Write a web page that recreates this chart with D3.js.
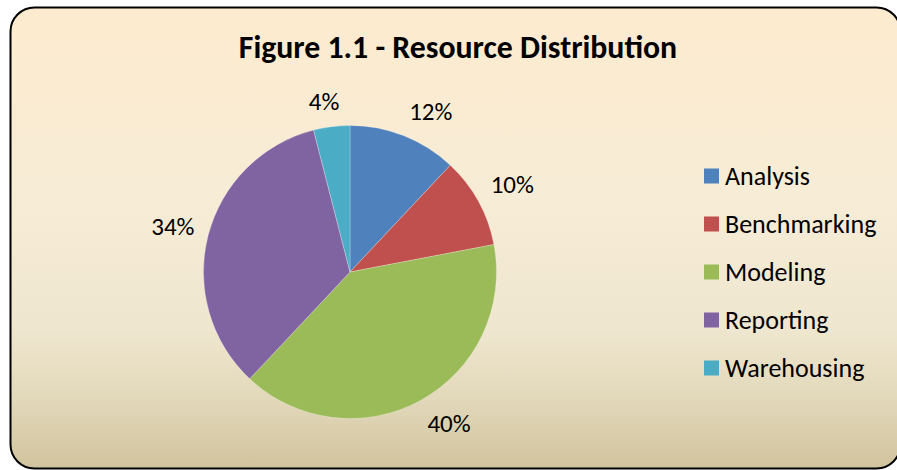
<!DOCTYPE html>
<html>
<head>
<meta charset="utf-8">
<script src="https://cdn.jsdelivr.net/npm/d3@7"></script>
<style>
  html, body { margin: 0; padding: 0; background: #ffffff; }
  svg { display: block; }
  text { font-family: Carlito, Lato, "Liberation Sans", sans-serif; fill: #000; }
</style>
</head>
<body>
<svg id="chart" width="897" height="470"></svg>
<script>
// ---- data ----
const title = "Figure 1.1 - Resource Distribution";
const categories = ["Analysis", "Benchmarking", "Modeling", "Reporting", "Warehousing"];
const values = [12, 10, 40, 34, 4];
const colors = ["#4F81BD", "#C0504D", "#9BBB59", "#8064A2", "#4BACC6"];

// ---- layout ----
const cx = 350, cy = 272, R = 146.5;
const svg = d3.select("#chart");

const defs = svg.append("defs");
const grad = defs.append("linearGradient").attr("id", "bg")
  .attr("x1", 0).attr("y1", 0).attr("x2", 0).attr("y2", 1);
[["0%", "#fdebcf"], ["45%", "#f6ecd6"], ["70%", "#efe6cf"], ["85%", "#e2d8ba"], ["100%", "#d1c39d"]]
  .forEach(([o, c]) => grad.append("stop").attr("offset", o).attr("stop-color", c));

svg.append("rect")
  .attr("x", 10.5).attr("y", 7.5).attr("width", 890).attr("height", 461)
  .attr("rx", 24).attr("ry", 24)
  .attr("fill", "url(#bg)").attr("stroke", "#000").attr("stroke-width", 2);

svg.append("text")
  .attr("x", 458).attr("y", 58)
  .attr("text-anchor", "middle")
  .attr("font-size", 31.8).attr("font-weight", "bold")
  .text(title);

const total = d3.sum(values);
const pie = d3.pie().sort(null).value(d => d)(values);
const arc = d3.arc().innerRadius(0).outerRadius(R);

const g = svg.append("g").attr("transform", `translate(${cx},${cy})`);
g.selectAll("path.slice").data(pie).join("path")
  .attr("class", "slice")
  .attr("d", arc)
  .attr("fill", (d, i) => colors[i])
  .attr("stroke", "rgba(255,255,255,0.35)")
  .attr("stroke-width", 0.7);

// percentage labels outside the pie
const fmt = d3.format(".0%");
const gap = 14;
g.selectAll("text.lbl").data(pie).join("text")
  .attr("class", "lbl")
  .attr("font-size", 25)
  .attr("text-anchor", "middle")
  .attr("dominant-baseline", "central")
  .text(d => fmt(d.value / total))
  .each(function(d) {
    const a = (d.startAngle + d.endAngle) / 2;
    const s = Math.sin(a), c = -Math.cos(a);
    const bb = this.getBBox();
    const clamp = v => Math.max(-1, Math.min(1, v));
    const x = (R + gap) * s + clamp(s * 3) * bb.width / 2;
    const y = (R + gap) * c + clamp(c * 2) * bb.height / 2 * 0.7;
    d3.select(this).attr("x", x).attr("y", y);
  });

// legend
const legendY = d3.scalePoint().domain(categories).range([176, 368]);
const lg = svg.append("g");
const items = lg.selectAll("g").data(categories).join("g")
  .attr("transform", d => `translate(704,${legendY(d)})`);
items.append("rect")
  .attr("x", 0).attr("y", -7.5).attr("width", 15).attr("height", 15)
  .attr("fill", (d, i) => colors[i]);
items.append("text")
  .attr("x", 21).attr("y", 0)
  .attr("dominant-baseline", "central")
  .attr("font-size", 26)
  .text(d => d);
</script>
</body>
</html>
